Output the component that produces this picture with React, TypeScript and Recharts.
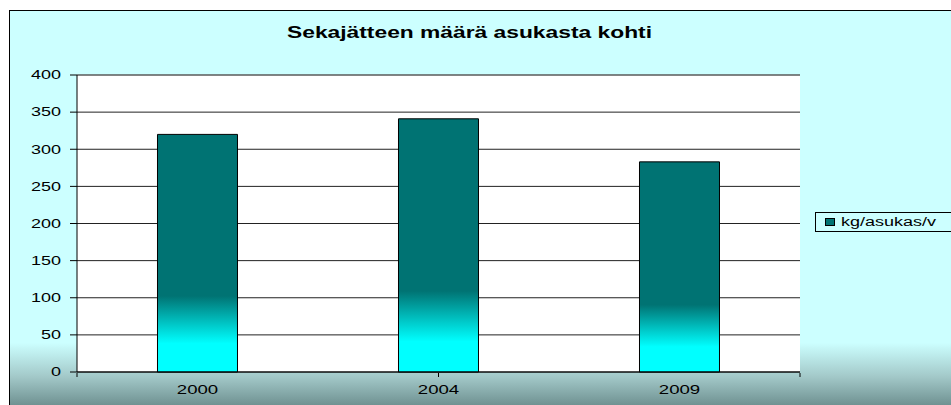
import { BarChart, Bar, XAxis, YAxis, CartesianGrid, ReferenceLine } from 'recharts';

const years = ['2000', '2004', '2009'];
const kgPerResident = [320, 341, 283];
const yTicks = [0, 50, 100, 150, 200, 250, 300, 350, 400];
const edgeTicks = [0, 1, 2, 3];
const seriesName = 'kg/asukas/v';

const data = years.map((year, i) => ({ year, value: kgPerResident[i] }));

const FONT = '"Liberation Sans", Arial, sans-serif';
const TEAL = '#007373';

const YTick = ({ x, y, payload }: any) => (
  <g transform={`translate(${x},${y})`}>
    <text transform="scale(1.5,1)" textAnchor="end" dy="0.36em" fontSize={12} fontFamily={FONT} fill="#000">
      {payload.value}
    </text>
  </g>
);

const XTick = ({ x, y, payload }: any) => (
  <g transform={`translate(${x},${y})`}>
    <text transform="scale(1.55,1)" textAnchor="middle" y={14} fontSize={12} fontFamily={FONT} fill="#000">
      {payload.value}
    </text>
  </g>
);

const NoTick = () => <g />;

export default function App() {
  return (
    <div style={{ position: 'absolute', left: 0, top: 0, width: 951, height: 405, overflow: 'hidden', background: '#fff' }}>
      <div
        style={{
          position: 'absolute',
          left: 9,
          top: 10,
          width: 1000,
          height: 420,
          borderLeft: '1px solid #000',
          borderTop: '1px solid #000',
          background: 'linear-gradient(to bottom, #ccffff 0%, #ccffff 79%, #a3c9c9 87%, #5f8080 96%)',
        }}
      />
      <svg width={951} height={405} style={{ position: 'absolute', left: 0, top: 0 }}>
        <text
          x={287}
          y={38}
          textLength={365}
          lengthAdjust="spacingAndGlyphs"
          fontSize={17}
          fontWeight="bold"
          fontFamily={FONT}
          fill="#000"
        >
          Sekajätteen määrä asukasta kohti
        </text>
      </svg>
      <div style={{ position: 'absolute', left: 0, top: 0 }}>
        <BarChart
          width={951}
          height={405}
          data={data}
          margin={{ top: 75, right: 151, left: 0, bottom: 0 }}
          barCategoryGap="33.4%"
        >
          <defs>
            <linearGradient id="barGrad" x1="0" y1="0" x2="0" y2="1">
              <stop offset="0%" stopColor={TEAL} />
              <stop offset="68%" stopColor={TEAL} />
              <stop offset="80%" stopColor="#00c8c8" />
              <stop offset="88%" stopColor="#00ffff" />
              <stop offset="100%" stopColor="#00ffff" />
            </linearGradient>
          </defs>
          <CartesianGrid vertical={false} stroke="#222" fill="#fff" fillOpacity={1} />
          <XAxis
            xAxisId="edge"
            type="number"
            domain={[0, 3]}
            allowDataOverflow
            ticks={edgeTicks}
            interval={0}
            height={32}
            axisLine={false}
            tickLine={{ stroke: '#000' }}
            tickSize={4}
            tick={NoTick}
          />
          <XAxis dataKey="year" height={1} axisLine={{ stroke: '#000' }} tickLine={false} tick={XTick} />
          <YAxis
            width={77}
            domain={[0, 400]}
            ticks={yTicks}
            interval={0}
            tickSize={7}
            tickMargin={9}
            axisLine={{ stroke: '#000' }}
            tickLine={{ stroke: '#000' }}
            tick={YTick}
          />
          <ReferenceLine xAxisId="edge" x={3} stroke="#888" />
          <ReferenceLine y={400} stroke="#777" />
          <Bar dataKey="value" name={seriesName} fill="url(#barGrad)" stroke="#000" strokeWidth={1} isAnimationActive={false} />
        </BarChart>
      </div>
      <div
        style={{
          position: 'absolute',
          left: 815,
          top: 212,
          border: '1px solid #000',
          background: '#ccffff',
          height: 20,
          width: 200,
          boxSizing: 'border-box',
          display: 'flex',
          alignItems: 'center',
          paddingLeft: 9,
        }}
      >
        <span style={{ width: 8, height: 6, background: TEAL, border: '1px solid #000', display: 'inline-block' }} />
        <span
          style={{
            marginLeft: 6,
            fontSize: 12,
            fontFamily: FONT,
            display: 'inline-block',
            transform: 'scaleX(1.5)',
            transformOrigin: 'left center',
            whiteSpace: 'nowrap',
          }}
        >
          {seriesName}
        </span>
      </div>
    </div>
  );
}
